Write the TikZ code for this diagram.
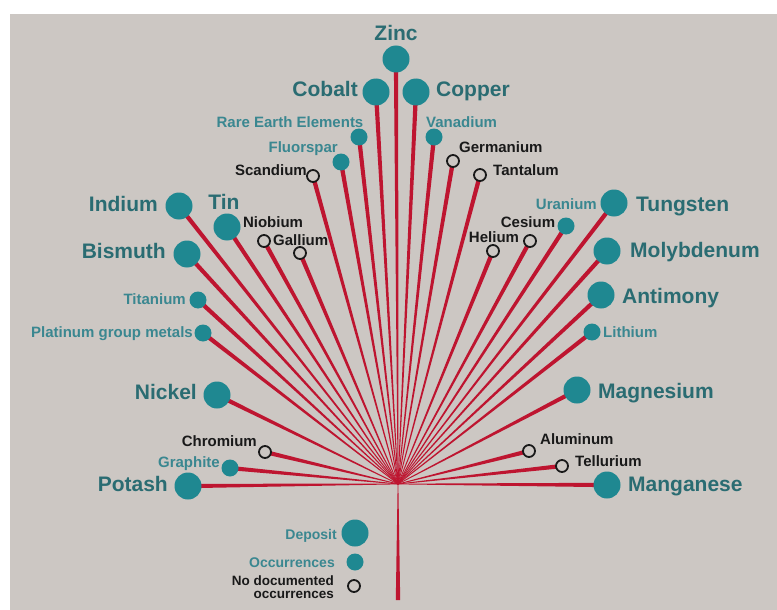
\documentclass[tikz,border=0pt]{standalone}
\usepackage{fontspec}
\setmainfont{Liberation Sans}
\usetikzlibrary{calc}

\definecolor{bgcol}{HTML}{CCC7C3}
\definecolor{dotcol}{HTML}{1F8891}
\definecolor{bigcol}{HTML}{2A6C72}
\definecolor{tealcol}{HTML}{3A8790}
\definecolor{spokecol}{HTML}{BE1530}

\pgfdeclarelayer{back}
\pgfsetlayers{back,main}

\tikzset{
  deposit/.style={circle,fill=dotcol,minimum size=27pt,inner sep=0pt},
  occur/.style={circle,fill=dotcol,minimum size=17pt,inner sep=0pt},
  nodoc/.style={circle,draw=black!90,line width=1.8pt,fill=bgcol,minimum size=12pt,inner sep=0pt},
  biglbl/.style={text=bigcol,font=\bfseries\fontsize{21}{21}\selectfont,inner sep=0pt,text height=15pt,text depth=0pt},
  teallbl/.style={text=tealcol,font=\bfseries\fontsize{15}{15}\selectfont,inner sep=0pt,text height=11pt,text depth=0pt},
  blklbl/.style={text=black!90,font=\bfseries\fontsize{15}{15}\selectfont,inner sep=0pt,text height=11pt,text depth=0pt},
}

% tapered red line from the hub out to a circle
\newcommand{\spoke}[1]{%
  \fill[spokecol] ($(hub)!0.35pt!90:(#1)$) -- ($(#1)!2.2pt!-90:(hub)$)
    -- ($(#1)!2.2pt!90:(hub)$) -- ($(hub)!0.35pt!-90:(#1)$) -- cycle;}

\begin{document}
\begin{tikzpicture}[x=1pt,y=-1pt]
        \useasboundingbox (0,0) rectangle (777,610);
        \coordinate (hub) at (398,484);
        \coordinate (stemend) at (398,600);

        % top
        \node[deposit] (zinc) at (396,59) {};
        \node[biglbl] (zinc-l) at (396,33) {Zinc};
        \node[deposit] (cobalt) at (376,92) {};
        \node[biglbl,anchor=east] (cobalt-l) at (358,89) {Cobalt};
        \node[deposit] (copper) at (416,92) {};
        \node[biglbl,anchor=west] (copper-l) at (436,89) {Copper};
        \node[occur] (ree) at (359,137) {};
        \node[teallbl] (ree-l) at (290,122) {Rare Earth Elements};
        \node[occur] (vanadium) at (434,137) {};
        \node[teallbl,anchor=west] (vanadium-l) at (426,122) {Vanadium};
        \node[occur] (fluorspar) at (341,162) {};
        \node[teallbl,anchor=east] (fluorspar-l) at (338,147) {Fluorspar};
        \node[nodoc] (germanium) at (453,161) {};
        \node[blklbl,anchor=west] (germanium-l) at (459,147) {Germanium};
        \node[nodoc] (scandium) at (313,176) {};
        \node[blklbl,anchor=east] (scandium-l) at (307,170) {Scandium};
        \node[nodoc] (tantalum) at (480,175) {};
        \node[blklbl,anchor=west] (tantalum-l) at (493,170) {Tantalum};

        % left
        \node[deposit] (indium) at (179,206) {};
        \node[biglbl,anchor=east] (indium-l) at (158,204) {Indium};
        \node[deposit] (tin) at (227,227) {};
        \node[biglbl] (tin-l) at (224,202) {Tin};
        \node[nodoc] (niobium) at (264,241) {};
        \node[blklbl] (niobium-l) at (273,222) {Niobium};
        \node[nodoc] (gallium) at (300,253) {};
        \node[blklbl,anchor=west] (gallium-l) at (273,240) {Gallium};
        \node[deposit] (bismuth) at (187,254) {};
        \node[biglbl,anchor=east] (bismuth-l) at (166,251) {Bismuth};
        \node[occur] (titanium) at (198,300) {};
        \node[teallbl,anchor=east] (titanium-l) at (186,299) {Titanium};
        \node[occur] (pgm) at (203,333) {};
        \node[teallbl,anchor=east] (pgm-l) at (193,332) {Platinum group metals};
        \node[deposit] (nickel) at (217,395) {};
        \node[biglbl,anchor=east] (nickel-l) at (197,392) {Nickel};
        \node[nodoc] (chromium) at (265,452) {};
        \node[blklbl,anchor=east] (chromium-l) at (257,441) {Chromium};
        \node[occur] (graphite) at (230,468) {};
        \node[teallbl,anchor=east] (graphite-l) at (220,462) {Graphite};
        \node[deposit] (potash) at (188,486) {};
        \node[biglbl,anchor=east] (potash-l) at (168,484) {Potash};

        % right
        \node[deposit] (tungsten) at (614,203) {};
        \node[biglbl,anchor=west] (tungsten-l) at (636,204) {Tungsten};
        \node[occur] (uranium) at (566,226) {};
        \node[teallbl,anchor=east] (uranium-l) at (597,204) {Uranium};
        \node[nodoc] (cesium) at (530,241) {};
        \node[blklbl] (cesium-l) at (528,222) {Cesium};
        \node[nodoc] (helium) at (493,251) {};
        \node[blklbl] (helium-l) at (494,237) {Helium};
        \node[deposit] (molybdenum) at (607,251) {};
        \node[biglbl,anchor=west] (molybdenum-l) at (630,250) {Molybdenum};
        \node[deposit] (antimony) at (601,295) {};
        \node[biglbl,anchor=west] (antimony-l) at (622,296) {Antimony};
        \node[occur] (lithium) at (592,332) {};
        \node[teallbl,anchor=west] (lithium-l) at (603,332) {Lithium};
        \node[deposit] (magnesium) at (577,390) {};
        \node[biglbl,anchor=west] (magnesium-l) at (598,391) {Magnesium};
        \node[nodoc] (aluminum) at (529,451) {};
        \node[blklbl,anchor=west] (aluminum-l) at (540,439) {Aluminum};
        \node[nodoc] (tellurium) at (562,466) {};
        \node[blklbl,anchor=west] (tellurium-l) at (575,461) {Tellurium};
        \node[deposit] (manganese) at (607,485) {};
        \node[biglbl,anchor=west] (manganese-l) at (628,484) {Manganese};

        % legend
        \node[deposit] (legdep) at (355,533) {};
        \node[teallbl,anchor=east,font=\bfseries\fontsize{14}{14}\selectfont] (legdep-l) at (337,534) {Deposit};
        \node[occur] (legocc) at (355,562) {};
        \node[teallbl,anchor=east,font=\bfseries\fontsize{14}{14}\selectfont] (legocc-l) at (335,562) {Occurrences};
        \node[nodoc] (legnodoc) at (354,586) {};
        \node[anchor=east,align=right,text=black!90,inner sep=0pt,font=\bfseries\fontsize{13.5}{13}\selectfont] (legnodoc-l) at (334,587) {No documented\\occurrences};

        \begin{pgfonlayer}{back}
        \fill[white] (0,0) rectangle (777,610);
        \fill[bgcol] (10,14) rectangle (777,610);
        \foreach \n in {zinc,cobalt,copper,ree,vanadium,fluorspar,germanium,scandium,tantalum,
                        indium,tin,niobium,gallium,bismuth,titanium,pgm,nickel,chromium,graphite,potash,
                        tungsten,uranium,cesium,helium,molybdenum,antimony,lithium,magnesium,aluminum,tellurium,manganese}
          \spoke{\n};
        \spoke{stemend};
        \end{pgfonlayer}
\end{tikzpicture}
\end{document}
